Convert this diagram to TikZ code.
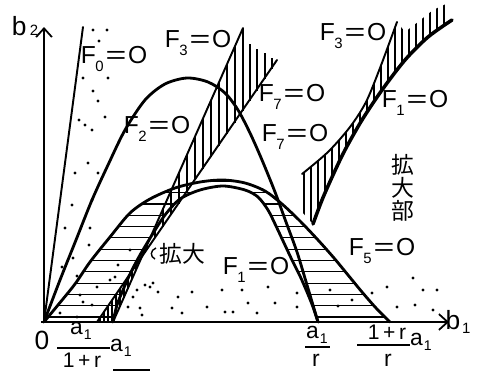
\documentclass[tikz,border=0pt]{standalone}
\usepackage{fontspec}
\setmainfont{Liberation Sans}
\newfontfamily\cjkfont{Noto Sans CJK JP}
\usepackage{graphicx}
\usetikzlibrary{arrows.meta}
\newcommand{\Flab}[1]{F\kern-0.2pt\raisebox{-0.3em}{\fontsize{8.5}{8.5}\selectfont #1}\kern1pt\scalebox{1.45}[1]{=}\kern1pt O}
\newcommand{\aone}{a\kern0.6pt\raisebox{-0.2em}{\fontsize{8}{8}\selectfont 1}}
\begin{document}
\begin{tikzpicture}[x=0.02cm,y=-0.02cm,
  mainline/.style={line width=1.6pt,line join=round,line cap=round},
  midline/.style={line width=1.1pt,line cap=round},
  hatchline/.style={line width=0.6pt},
  axisline/.style={line width=1pt,-{Straight Barb[length=5pt,width=9pt,line width=1pt]}},
  flabel/.style={inner sep=0pt,font=\fontsize{14}{14}\selectfont},
  alabel/.style={inner sep=0pt,font=\fontsize{13}{13}\selectfont},
  slabel/.style={inner sep=0pt,font=\fontsize{12}{12}\selectfont},
  cjklabel/.style={inner sep=0pt,font=\cjkfont\fontsize{13}{13}\selectfont,align=center},
  speck/.style={fill=black}]
\useasboundingbox (0,0) rectangle (483,372);
\fill[white] (0,0) rectangle (483,372);
\coordinate (O) at (44,322);
\coordinate (Ytop) at (44,27);
\coordinate (Xend) at (449,322);
\coordinate (Xstart) at (41,322);
\coordinate (F0end) at (83,27);
\coordinate (F3a) at (113,322);
\coordinate (F3b) at (243,28);
\coordinate (F7a) at (97,322);
\coordinate (F7b) at (277,60);
% horizontal hatching between the two arches
\begin{scope}
\clip plot[smooth] coordinates {(44,322) (58,305) (75,284) (90,262) (110,237) (130,213) (150,199) (175,188) (200,182) (223,180) (245,183) (265,191) (282,204) (300,221) (318,240) (334,258) (348,275) (362,292) (376,308) (390,322)}
 -- plot[smooth] coordinates {(318,322) (313,307) (307,292) (300,276) (292,260) (284,243) (276,226) (268,210) (258,197) (245,190) (223,186) (200,190) (180,199) (165,215) (152,235) (140,255) (131,272) (123,290) (117,305) (113,322)} -- cycle;
\foreach \i in {0,...,12} \draw[hatchline] (40,{317-11.3*\i}) -- (400,{317-11.3*\i});
\end{scope}
% vertical hatching between F3 and F7
\foreach \x in {147,155,...,243} \draw[hatchline] (\x,{322-(\x-113)/0.4422}) -- (\x,{322-(\x-97)/0.6923});
\foreach \x/\t in {250/44,257/49,265/53,272/58} \draw[hatchline] (\x,\t) -- (\x,{322-(\x-97)/0.6923});
\foreach \x in {100,104,...,140} \draw[hatchline] (\x,{322-(\x-97)/0.6923}) -- (\x,{min(322,322-(\x-113)/0.4422)});
% curves
\draw[mainline] plot[smooth] coordinates {(44,322) (58,305) (75,284) (90,262) (110,237) (130,213) (150,199) (175,188) (200,182) (223,180) (245,183) (265,191) (282,204) (300,221) (318,240) (334,258) (348,275) (362,292) (376,308) (390,322)};
\draw[mainline] plot[smooth] coordinates {(113,322) (117,305) (123,290) (131,272) (140,255) (152,235) (165,215) (180,199) (200,190) (223,186) (245,190) (258,197) (268,210) (276,226) (284,243) (292,260) (300,276) (307,292) (313,307) (318,322)};
\draw[mainline] plot[smooth] coordinates {(44,322) (60,280) (76,240) (92,200) (108,165) (125,130) (145,100) (165,84) (187,78) (208,82) (225,93) (238,110) (250,133) (262,160) (275,192) (286,222) (297,252) (307,285) (318,322)};
\draw[midline] (O) -- (F0end);
\draw[midline] (F3a) -- (F3b);
\draw[midline] (F7a) -- (F7b);
% inset (enlarged part)
\begin{scope}
\clip plot[smooth] coordinates {(302,174) (328,152) (350,127) (366,102) (380,68) (397,22)} -- (405,32) -- (418,22) -- (433,10) -- (446,4) -- (452,20)
  -- plot[smooth] coordinates {(452,20) (428,37) (405,60) (382,90) (362,120) (345,150) (333,175) (322,200) (313,224)} -- (302,212) -- cycle;
\foreach \x in {304,311,...,450} \draw[hatchline] (\x,0) -- (\x,230);
\end{scope}
\draw[midline] plot[smooth] coordinates {(302,174) (328,152) (350,127) (366,102) (380,68) (397,22)};
\draw[line width=2pt,line cap=round] plot[smooth] coordinates {(313,224) (322,200) (333,175) (345,150) (362,120) (382,90) (405,60) (428,37) (452,20)};
% axes
\draw[axisline] (Xstart) -- (Xend);
\draw[axisline] (O) -- (Ytop);
% labels
\node[inner sep=0pt,font=\fontsize{15}{15}\selectfont] (b2) at (25,26) {b\kern2pt\raisebox{0pt}{\fontsize{8.5}{8.5}\selectfont 2}};
\node[inner sep=0pt,font=\fontsize{15}{15}\selectfont] (b1) at (458,322) {b\kern1pt\raisebox{-0.15em}{\fontsize{8.5}{8.5}\selectfont 1}};
\node[flabel] (lf0) at (114,59) {\Flab{0}};
\node[flabel] (lf3) at (198,43) {\Flab{3}};
\node[flabel] (lf2) at (157,129) {\Flab{2}};
\node[flabel] (lf7a) at (292,97) {\Flab{7}};
\node[flabel] (lf7b) at (295,137) {\Flab{7}};
\node[flabel] (lf3i) at (353,36) {\Flab{3}};
\node[flabel] (lf1i) at (415,103) {\Flab{1}};
\node[flabel] (lf1) at (256,270) {\Flab{1}};
\node[flabel] (lf5) at (382,251) {\Flab{5}};
\node[cjklabel] (kakudaibu) at (403,188) {拡\\大\\部};
\node[cjklabel] (kakudai) at (182,254) {拡大};
\draw[line width=0.8pt] (156,248) .. controls (150,250) and (150,257) .. (155,259);
\node[inner sep=0pt,font=\fontsize{15}{15}\selectfont] (zero) at (42,340) {0};
\node[alabel] (n1) at (81,331) {\aone};
\node[slabel] (d1) at (82,360) {1\,+\,r};
\draw[line width=0.8pt] (57,348) -- (110,348);
\node[alabel] (a1) at (121,348) {\aone};
\node[alabel] (n2) at (317,335) {\aone};
\node[alabel] (d2) at (316,360) {r};
\draw[line width=0.8pt] (305,347) -- (330,347);
\node[slabel] (n3) at (387,332) {1\,+\,r};
\node[alabel] (d3) at (388,360) {r};
\draw[line width=0.8pt] (357,345) -- (410,345);
\node[alabel] (a1b) at (421,342) {\aone};
\draw[line width=1.5pt] (113,370) -- (150,370);
% specks
\foreach \p in {(93,30),(107,30),(99,41),(83,78),(108,78),(93,91),(98,101),(105,117),(79,120),(85,125),(92,130),(88,163),(75,173),(98,173),(72,205),(92,200),(65,228),(90,228),(89,245),(73,258),(62,267),(77,276),(97,287),(80,295),(92,305),(60,313),(77,317),(130,250),(118,265),(110,280),(133,297),(145,285),(140,308),(128,307),(83,302),(115,277),
 (137,290),(150,287),(142,315),(158,292),(172,308),(178,297),(182,313),(192,292),(207,307),(222,290),(225,312),(242,290),(233,312),(248,303),(257,313),(268,287),(275,303),(297,293),(297,307),(153,283),
 (330,290),(338,306),(352,300),(372,293),(387,287),(413,278),(423,290),(437,290),(397,307),(415,305),(433,310)}
  \fill[speck] \p circle (0.9pt);
\end{tikzpicture}
\end{document}
